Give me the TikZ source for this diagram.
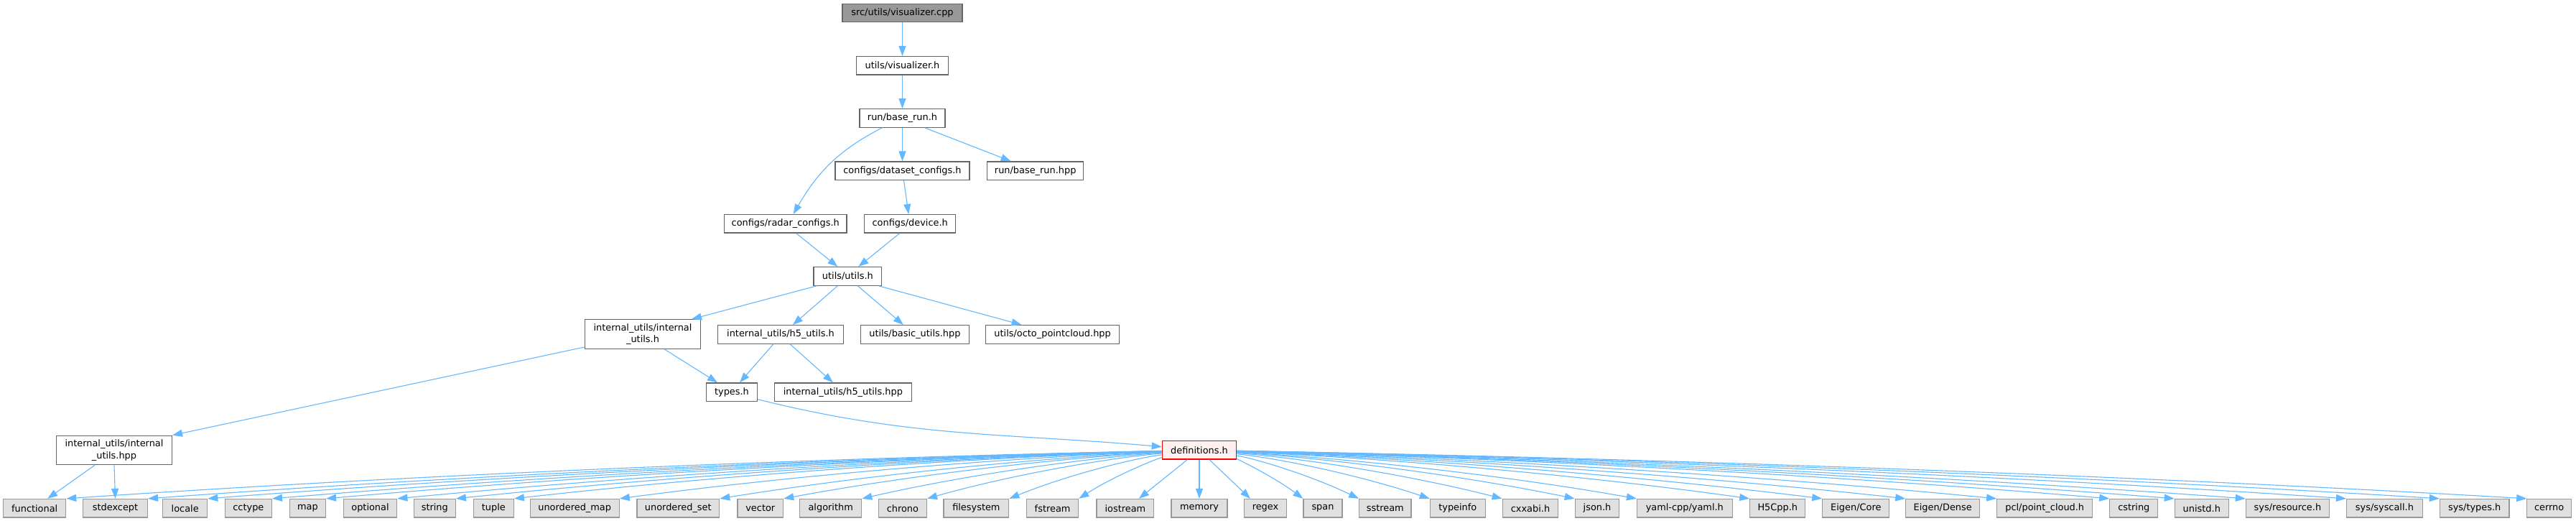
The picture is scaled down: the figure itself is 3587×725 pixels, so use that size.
\documentclass[tikz,border=0pt]{standalone}
\usepackage{fontspec}
\setmainfont{DejaVu Sans}
\usetikzlibrary{arrows.meta,calc}
\definecolor{edgeblue}{HTML}{63B8FF}
\definecolor{grayforty}{HTML}{666666}
\definecolor{grayborder}{HTML}{999999}
\definecolor{grayfill}{HTML}{E0E0E0}
\definecolor{topfill}{HTML}{999999}
\definecolor{deffill}{HTML}{FFF0F0}
\definecolor{defborder}{HTML}{FF0000}
\newcommand{\nodefont}{\fontsize{12.9}{16.5}\selectfont}
\newcommand{\defedge}[1]{\draw[edge] (defs) .. controls ($(defs)!0.35!(#1)+(0,-12)$) and ($(defs)!0.7!(#1)+(0,-12)$) .. (#1);}
\begin{document}
\begin{tikzpicture}[x=1pt,y=-1pt,
  box/.style={draw=grayforty, fill=white, line width=1.2pt, minimum height=25.5pt, inner sep=0pt, font=\nodefont, text=black},
  two/.style={box, minimum height=40.5pt, align=center},
  sys/.style={box, draw=grayborder, fill=grayfill},
  edge/.style={draw=edgeblue, line width=1.1pt, -{Triangle[length=14pt,width=10pt]}},
]
\useasboundingbox[fill=white] (0,0) rectangle (3587,725);

% upper nodes
\node[box, fill=topfill, minimum width=167pt] (cpp) at (1256.5,18) {src/utils/visualizer.cpp};
\node[box, minimum width=128pt] (vis) at (1256.5,91.3) {utils/visualizer.h};
\node[box, minimum width=119pt] (baserun) at (1256.5,164.4) {run/base\_run.h};
\node[box, minimum width=187pt] (dataset) at (1256.5,237.7) {configs/dataset\_configs.h};
\node[box, minimum width=134pt] (baserunhpp) at (1441.7,237.7) {run/base\_run.hpp};
\node[box, minimum width=170.5pt] (radar) at (1093.7,311.3) {configs/radar\_configs.h};
\node[box, minimum width=127pt] (device) at (1267.2,311.3) {configs/device.h};
\node[box, minimum width=94.7pt] (utils) at (1180.4,384.4) {utils/utils.h};
\node[two, minimum width=161.4pt] (iuh) at (895,465) {internal\_utils/internal\\\_utils.h};
\node[box, minimum width=175pt] (h5h) at (1087,465.4) {internal\_utils/h5\_utils.h};
\node[box, minimum width=150.4pt] (basic) at (1273.9,465.4) {utils/basic\_utils.hpp};
\node[box, minimum width=185.7pt] (octo) at (1465.6,465.4) {utils/octo\_pointcloud.hpp};
\node[box, minimum width=71pt] (types) at (1019,545.7) {types.h};
\node[box, minimum width=190.6pt] (h5hpp) at (1173.9,545.7) {internal\_utils/h5\_utils.hpp};
\node[two, minimum width=160.8pt] (iuhpp) at (159,626.5) {internal\_utils/internal\\\_utils.hpp};
\node[box, draw=defborder, fill=deffill, minimum width=103.4pt] (defs) at (1670,626.3) {definitions.h};

% bottom row
\node[sys, minimum width=87pt] (functional) at (48.2,707.2) {functional};
\node[sys, minimum width=90pt] (stdexcept) at (160.5,707.2) {stdexcept};
\node[sys, minimum width=62pt] (locale) at (257.7,707.2) {locale};
\node[sys, minimum width=65pt] (cctype) at (345.9,707.2) {cctype};
\node[sys, minimum width=50pt] (map) at (428.5,707.2) {map};
\node[sys, minimum width=74.6pt] (optional) at (515.5,707.2) {optional};
\node[sys, minimum width=58pt] (string) at (605.3,707.2) {string};
\node[sys, minimum width=55.7pt] (tuple) at (687.4,707.2) {tuple};
\node[sys, minimum width=124pt] (umap) at (800.2,707.2) {unordered\_map};
\node[sys, minimum width=114.8pt] (uset) at (944.3,707.2) {unordered\_set};
\node[sys, minimum width=63.7pt] (vector) at (1058.8,707.2) {vector};
\node[sys, minimum width=86pt] (algorithm) at (1156.7,707.2) {algorithm};
\node[sys, minimum width=67pt] (chrono) at (1256.9,707.2) {chrono};
\node[sys, minimum width=90.7pt] (filesystem) at (1359.4,707.2) {filesystem};
\node[sys, minimum width=72.3pt] (fstream) at (1465.6,707.2) {fstream};
\node[sys, minimum width=79.8pt] (iostream) at (1566.9,707.2) {iostream};
\node[sys, minimum width=78pt] (memory) at (1670,707.2) {memory};
\node[sys, minimum width=59pt] (regex) at (1762,707.2) {regex};
\node[sys, minimum width=54pt] (span) at (1842,707.2) {span};
\node[sys, minimum width=72.3pt] (sstream) at (1928.8,707.2) {sstream};
\node[sys, minimum width=77pt] (typeinfo) at (2029.8,707.2) {typeinfo};
\node[sys, minimum width=77.5pt] (cxxabi) at (2131,707.2) {cxxabi.h};
\node[sys, minimum width=61.4pt] (json) at (2224,707.2) {json.h};
\node[sys, minimum width=132.6pt] (yaml) at (2345.8,707.2) {yaml-cpp/yaml.h};
\node[sys, minimum width=77pt] (hfivecpp) at (2475.3,707.2) {H5Cpp.h};
\node[sys, minimum width=93pt] (eigencore) at (2584.3,707.2) {Eigen/Core};
\node[sys, minimum width=102.7pt] (eigendense) at (2705.2,707.2) {Eigen/Dense};
\node[sys, minimum width=132.9pt] (pcl) at (2847.2,707.2) {pcl/point\_cloud.h};
\node[sys, minimum width=67pt] (cstring) at (2971.3,707.2) {cstring};
\node[sys, minimum width=74.9pt] (unistd) at (3065.8,707.2) {unistd.h};
\node[sys, minimum width=116pt] (sysres) at (3185.4,707.2) {sys/resource.h};
\node[sys, minimum width=105.7pt] (syscall) at (3320.4,707.2) {sys/syscall.h};
\node[sys, minimum width=96.6pt] (systypes) at (3445.7,707.2) {sys/types.h};
\node[sys, minimum width=61.6pt] (cerrno) at (3549.6,707.2) {cerrno};

% upper edges
\draw[edge] (cpp) -- (vis);
\draw[edge] (vis) -- (baserun);
\draw[edge] (baserun) -- (dataset);
\draw[edge] ([xshift=31pt]baserun.south) -- ([xshift=-34pt]baserunhpp.north);
\draw[edge] ([xshift=-28pt]baserun.south) to[out=207,in=60] ([xshift=11pt]radar.north);
\draw[edge] ([xshift=2pt]dataset.south) -- ([xshift=-2pt]device.north);
\draw[edge] ([xshift=15pt]radar.south) -- ([xshift=-14pt]utils.north);
\draw[edge] ([xshift=-14.5pt]device.south) -- ([xshift=15pt]utils.north);
\draw[edge] ([xshift=-43pt]utils.south) -- ([xshift=68pt]iuh.north);
\draw[edge] ([xshift=-14pt]utils.south) -- ([xshift=17pt]h5h.north);
\draw[edge] ([xshift=14pt]utils.south) -- ([xshift=-16pt]basic.north);
\draw[edge] ([xshift=43pt]utils.south) -- ([xshift=-43pt]octo.north);
\draw[edge] ([xshift=-10pt]h5h.south) -- ([xshift=11pt]types.north);
\draw[edge] ([xshift=13pt]h5h.south) -- ([xshift=-14pt]h5hpp.north);
\draw[edge] ([xshift=30pt]iuh.south) -- ([xshift=-20pt]types.north);
\draw[edge] ([yshift=-18pt]iuh.west) -- (iuhpp.north east);
\draw[edge] ([yshift=-10pt]types.east) to[out=-14,in=175] ([yshift=4.6pt]defs.west);
\draw[edge] ([xshift=-27pt]iuhpp.south) -- ([xshift=18pt]functional.north);
\draw[edge] (iuhpp.south) -- (stdexcept.north);

% definitions.h edges
\foreach \tg in {functional,stdexcept,locale,cctype,map,optional,string,tuple,umap,uset,vector,algorithm,chrono,filesystem,fstream}
  {\defedge{\tg.north east}}
\draw[edge] (defs) -- ([xshift=19pt]iostream.north);
\draw[edge] (defs) -- (memory);
\draw[edge] (defs) -- ([xshift=-21pt]regex.north);
\foreach \tg in {span,sstream,typeinfo,cxxabi,json,yaml,hfivecpp,eigencore,eigendense,pcl,cstring,unistd,sysres,syscall,systypes,cerrno}
  {\defedge{\tg.north west}}
\end{tikzpicture}
\end{document}
